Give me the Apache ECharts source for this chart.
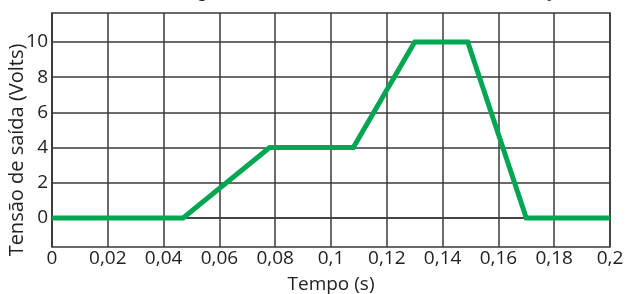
<!DOCTYPE html>
<html lang="pt">
<head>
    <meta charset="UTF-8">
    <title>Tensão de saída</title>
    <script src="https://cdn.jsdelivr.net/npm/echarts@6/dist/echarts.min.js"></script>
    <style>
        html, body { margin: 0; padding: 0; background: #fff; }
        #chart { width: 626px; height: 294px; }
    </style>
</head>
<body>
    <div id="chart"></div>
    <script>
        // dados
        var tempo = [0, 0.047, 0.078, 0.108, 0.130, 0.149, 0.170, 0.2];
        var tensao = [0, 0, 4, 4, 10, 10, 0, 0];
        var yTicks = [0, 2, 4, 6, 8, 10];
        var xTicks = [0, 0.02, 0.04, 0.06, 0.08, 0.1, 0.12, 0.14, 0.16, 0.18, 0.2];

        var pontos = [];
        for (var i = 0; i < tempo.length; i++) {
            pontos.push([tempo[i], tensao[i]]);
        }

        var font = '"Open Sans", sans-serif';
        var gridColor = '#3a3a3a';

        var myChart = echarts.init(document.getElementById('chart'));
        var option = {
            animation: false,
            grid: {
                left: 52, right: 16, top: 13, bottom: 47,
                outerBoundsMode: 'none',
                show: true,
                borderColor: gridColor,
                borderWidth: 1.5
            },
            xAxis: {
                type: 'value',
                min: 0,
                max: 0.2,
                interval: 0.02,
                name: 'Tempo (s)',
                nameLocation: 'middle',
                nameGap: 28,
                nameTextStyle: { fontFamily: font, fontSize: 19, color: '#222' },
                axisLine: { show: true, lineStyle: { color: gridColor, width: 1.5 } },
                axisTick: { show: false },
                axisLabel: {
                    fontFamily: font, fontSize: 19, color: '#222', margin: 2,
                    customValues: xTicks,
                    formatter: function (v) {
                        return String(+v.toFixed(2)).replace('.', ',');
                    }
                },
                splitLine: { show: true, lineStyle: { color: gridColor, width: 1.5 } }
            },
            yAxis: {
                type: 'value',
                min: -1.65,
                max: 11.65,
                axisLine: { show: true, lineStyle: { color: gridColor, width: 1.5 } },
                axisTick: { show: false, customValues: yTicks },
                axisLabel: {
                    fontFamily: font, fontSize: 19, color: '#222', margin: 4,
                    customValues: yTicks
                },
                splitLine: { show: true, lineStyle: { color: gridColor, width: 1.5 } }
            },
            graphic: [
                // título do eixo y (um pouco abaixo do centro, como no original)
                {
                    type: 'text', x: 17, y: 150, rotation: Math.PI / 2, z: 10,
                    style: {
                        text: 'Tensão de saída (Volts)', font: '20px "Open Sans", sans-serif',
                        fill: '#222', align: 'center', verticalAlign: 'middle'
                    }
                },
                // restos do título cortado no topo
                { type: 'text', left: 546, top: -9, style: { text: '0', font: 'bold 13px "Liberation Serif", serif', fill: '#222' } },
                { type: 'text', left: 198, top: -15, style: { text: 'g', font: 'bold 16px "Liberation Serif", serif', fill: '#222' } }
            ],
            series: [
                {
                    type: 'line',
                    data: pontos,
                    symbol: 'none',
                    lineStyle: { color: '#00a651', width: 5, join: 'miter' },
                    z: 5
                }
            ]
        };
        myChart.setOption(option);
    </script>
</body>
</html>
